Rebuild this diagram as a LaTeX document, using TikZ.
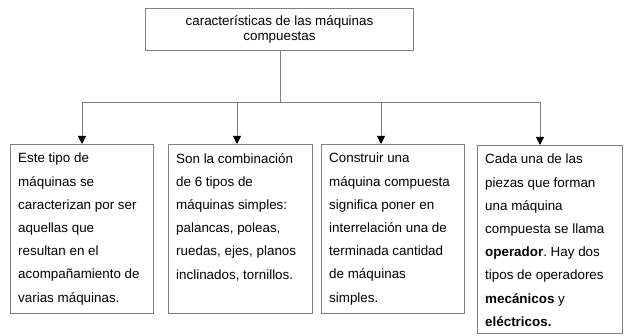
\documentclass[tikz,border=0pt]{standalone}
\usepackage{fontspec}
\setmainfont{Liberation Sans}
\usetikzlibrary{arrows.meta}
\definecolor{linegray}{HTML}{808080}
\frenchspacing
\begin{document}
\begin{tikzpicture}[x=1pt,y=-1pt,
  boxshape/.style={draw=linegray,line width=1pt,rectangle,inner sep=0pt,anchor=north west},
  boxtext/.style={anchor=north west,inner sep=0pt,align=left,font=\fontsize{13.4}{23.2}\selectfont},
  conn/.style={draw=linegray,line width=1pt},
  arr/.style={conn,-{Triangle[length=8pt,width=8pt,fill=black,color=black]}}]
\useasboundingbox (0,0) rectangle (629,336);
% top box
\node[boxshape,minimum width=268pt,minimum height=42pt,align=center,
      font=\fontsize{13.4}{14.5}\selectfont] (top) at (145,8)
      {características de las máquinas\\compuestas};
% boxes
\node[boxshape,minimum width=143pt,minimum height=169pt] (b1) at (10,144) {};
\node[boxshape,minimum width=144pt,minimum height=169pt] (b2) at (168,144) {};
\node[boxshape,minimum width=143pt,minimum height=169pt] (b3) at (321,144) {};
\node[boxshape,minimum width=145pt,minimum height=188pt] (b4) at (477,145) {};
% texts
\node[boxtext] (t1) at (18,153) {Este tipo de\\máquinas se\\caracterizan por ser\\aquellas que\\resultan en el\\acompañamiento de\\varias máquinas.};
\node[boxtext] (t2) at (176,153) {Son la combinación\\de 6 tipos de\\máquinas simples:\\palancas, poleas,\\ruedas, ejes, planos\\inclinados, tornillos.};
\node[boxtext] (t3) at (329,153) {Construir una\\máquina compuesta\\significa poner en\\interrelación una de\\terminada cantidad\\de máquinas\\simples.};
\node[boxtext] (t4) at (485,154) {Cada una de las\\piezas que forman\\una máquina\\compuesta se llama\\\textbf{operador}. Hay dos\\tipos de operadores\\\textbf{mecánicos} y\\\textbf{eléctricos.}};
% connectors
\coordinate (jn) at (280,102.5);
\coordinate (hl) at (82,102.5);
\coordinate (hr) at (540,102.5);
\draw[conn] (top.south -| jn) -- (jn);
\draw[conn] (hl) -- (hr);
\draw[arr] (hl) -- (hl |- b1.north);
\draw[arr] (237,102.5) -- (237,144);
\draw[arr] (381,102.5) -- (381,144);
\draw[arr] (hr) -- (hr |- b4.north);
\end{tikzpicture}
\end{document}
